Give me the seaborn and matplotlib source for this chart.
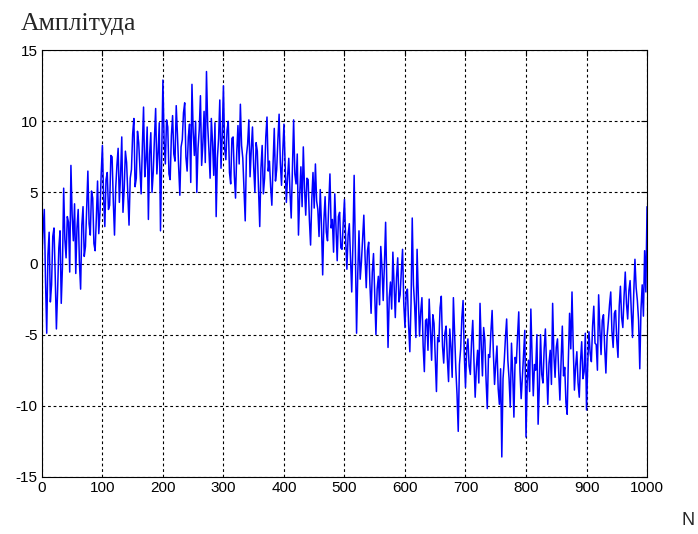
import numpy as np
import pandas as pd
import matplotlib
matplotlib.use('Agg')
import matplotlib.pyplot as plt
import seaborn as sns

# sample index (every 2nd sample of 0..1000)
sample_n = np.arange(0, 1001, 2)

# noisy sine amplitude, 100 samples per row block
amplitude = [
    # 0..98
    0.3, 2.4, 3.8, -1.2, -4.9, 0.6, 2.2, -2.7, -1.5, 1.9,
    2.5, -0.8, -4.6, -1.9, 1.1, 2.3, -2.8, -0.2, 5.3, 1.7,
    0.4, 3.3, 2.9, -0.6, 6.9, 3.4, 1.6, 4.2, -0.7, 2.5,
    3.8, 0.1, -1.8, 2.7, 4.0, 0.5, 1.2, 3.9, 6.5, 2.8,
    2.0, 5.1, 4.6, 1.4, 0.9, 3.2, 5.8, 2.1, 3.6, 6.3,
    # 100..198
    8.3, 4.7, 2.6, 5.9, 6.4, 3.8, 4.1, 7.6, 7.5, 4.4,
    2.0, 5.3, 6.9, 8.1, 4.3, 6.2, 8.9, 3.6, 5.2, 7.9,
    7.1, 4.8, 2.7, 6.0, 6.6, 9.1, 10.2, 5.4, 6.0, 9.3,
    8.5, 6.7, 4.9, 8.2, 11.0, 6.1, 7.3, 9.6, 3.1, 7.7,
    9.2, 5.0, 6.4, 8.8, 10.9, 6.3, 7.8, 9.9, 2.3, 7.4,
    # 200..298
    12.9, 8.6, 7.0, 10.1, 9.6, 6.3, 5.9, 9.0, 10.4, 7.7,
    7.2, 11.1, 9.1, 6.8, 4.8, 8.2, 8.7, 10.6, 11.3, 7.5,
    6.5, 8.9, 9.8, 5.7, 12.6, 9.3, 7.6, 10.0, 5.0, 8.1,
    9.4, 11.8, 6.9, 8.4, 10.7, 7.1, 13.5, 9.7, 8.0, 6.0,
    10.2, 8.5, 6.2, 9.9, 3.3, 7.4, 8.8, 11.5, 6.7, 9.0,
    # 300..398
    12.5, 8.1, 7.3, 9.4, 10.0, 6.4, 5.6, 8.8, 8.9, 6.2,
    4.6, 7.8, 9.7, 7.0, 11.2, 8.3, 7.4, 5.1, 3.0, 7.6,
    8.4, 10.1, 6.1, 8.0, 9.6, 6.8, 5.0, 8.5, 7.9, 5.3,
    2.6, 6.7, 8.3, 4.9, 6.0, 8.9, 10.3, 6.5, 7.2, 5.4,
    4.1, 7.0, 9.5, 5.8, 6.6, 8.7, 10.5, 7.1, 5.5, 7.8,
    # 400..498
    9.8, 6.9, 4.3, 6.1, 7.4, 5.0, 3.2, 6.6, 10.1, 6.3,
    5.6, 7.7, 2.0, 4.8, 6.8, 4.0, 8.2, 5.3, 3.4, 6.0,
    5.9, 3.1, 1.3, 4.5, 6.4, 3.9, 7.0, 4.4, 3.8, 1.9,
    5.2, 2.7, -0.8, 3.0, 4.7, 2.2, 1.6, 4.1, 6.3, 2.5,
    3.1, 0.8, 4.9, 2.6, 0.2, 3.3, 3.6, 1.1, 1.0, 2.9,
    # 500..598
    4.5, 1.7, -0.4, 2.0, 2.8, 0.3, -2.0, 1.4, 6.2, 0.9,
    -4.9, -0.7, 2.3, -1.1, 0.1, 1.8, 3.4, 0.5, -1.7, 0.9,
    1.5, -1.4, -3.5, -0.6, 0.7, -2.1, -5.0, -1.8, -0.9, -2.9,
    1.2, -0.3, -2.6, -0.1, 2.9, -1.6, -5.9, -2.4, -1.3, -3.2,
    0.8, -1.5, -3.8, -1.0, 0.4, -2.7, -2.2, -0.5, 1.0, -2.8,
    # 600..698
    -4.5, -2.1, -1.8, -4.3, -6.2, -2.8, 3.2, -1.5, -3.0, -5.2,
    1.0, -2.2, -5.1, -3.4, -2.4, -5.8, -7.6, -4.0, -3.9, -6.1,
    -2.5, -4.7, -6.8, -3.6, -4.2, -6.5, -9.0, -5.2, -5.5, -3.1,
    -2.3, -5.8, -7.0, -4.9, -4.4, -6.7, -8.3, -4.6, -5.9, -8.0,
    -2.4, -5.0, -7.4, -9.2, -11.8, -7.1, -6.0, -3.8, -2.6, -6.4,
    # 700..798
    -8.7, -6.0, -5.3, -7.2, -7.8, -5.5, -4.0, -6.9, -9.4, -7.3,
    -6.1, -8.4, -2.8, -5.7, -7.9, -4.5, -5.4, -8.2, -10.2, -6.4,
    -6.6, -4.8, -3.3, -6.2, -8.5, -7.0, -5.8, -8.8, -9.9, -7.4,
    -13.6, -8.1, -6.9, -5.2, -3.9, -6.8, -8.1, -10.1, -5.6, -7.7,
    -10.8, -6.6, -7.0, -5.1, -3.4, -7.6, -9.5, -8.0, -6.3, -4.7,
    # 800..898
    -12.2, -8.3, -6.8, -9.0, -3.2, -6.5, -9.3, -7.1, -7.5, -5.0,
    -11.3, -8.6, -5.0, -7.8, -8.4, -6.0, -4.6, -7.3, -9.9, -7.0,
    -6.1, -8.5, -2.8, -6.4, -8.0, -5.9, -5.3, -7.6, -9.6, -6.8,
    -4.4, -7.9, -7.3, -9.8, -10.6, -6.7, -3.5, -6.0, -2.0, -5.8,
    -8.9, -7.2, -6.2, -8.4, -9.4, -6.9, -5.5, -8.1, -7.6, -4.9,
    # 900..1000
    -10.3, -7.0, -4.8, -6.3, -6.9, -4.4, -3.0, -5.6, -5.7, -7.5,
    -2.2, -4.6, -6.4, -4.0, -3.6, -5.9, -7.7, -5.1, -4.1, -2.9,
    -2.0, -4.8, -5.9, -3.5, -3.3, -5.4, -6.6, -3.0, -1.6, -3.8,
    -4.5, -2.3, -0.6, -2.8, -3.9, -1.9, -1.2, -3.4, -5.2, -2.1,
    0.3, -1.7, -2.6, -4.0, -7.4, -3.2, -1.5, -3.7, 0.9, -2.0,
    4.0,
]

x_ticks = [0, 100, 200, 300, 400, 500, 600, 700, 800, 900, 1000]
y_ticks = [-15, -10, -5, 0, 5, 10, 15]

df = pd.DataFrame({'N': sample_n, 'A': amplitude})

sns.set_style('white')
plt.rcParams['font.family'] = ['Liberation Sans', 'DejaVu Sans']
plt.rcParams['axes.unicode_minus'] = False

fig = plt.figure(figsize=(6.98, 5.34), dpi=100)
ax = fig.add_axes([0.060, 0.107, 0.867, 0.799])

sns.lineplot(data=df, x='N', y='A', color='#0000ff', linewidth=1.1, ax=ax)

ax.set_xlim(0, 1000)
ax.set_ylim(-15, 15)
ax.set_xticks(x_ticks)
ax.set_yticks(y_ticks)
ax.set_xlabel('')
ax.set_ylabel('')
ax.grid(True, color='black', linestyle=(0, (2.5, 2.5)), linewidth=0.8)
ax.tick_params(direction='in', top=True, right=True, length=4, width=0.8,
               labelsize=11, colors='black', pad=3)
for s in ax.spines.values():
    s.set_color('black')
    s.set_linewidth(0.8)

fig.text(0.030, 0.944, 'Амплітуда', family=['Liberation Serif', 'DejaVu Serif'],
         fontsize=18.5, ha='left', va='baseline')
fig.text(0.977, 0.017, 'N', fontsize=13, ha='left', va='baseline')

fig.savefig('out.png', dpi=100, facecolor='white')
